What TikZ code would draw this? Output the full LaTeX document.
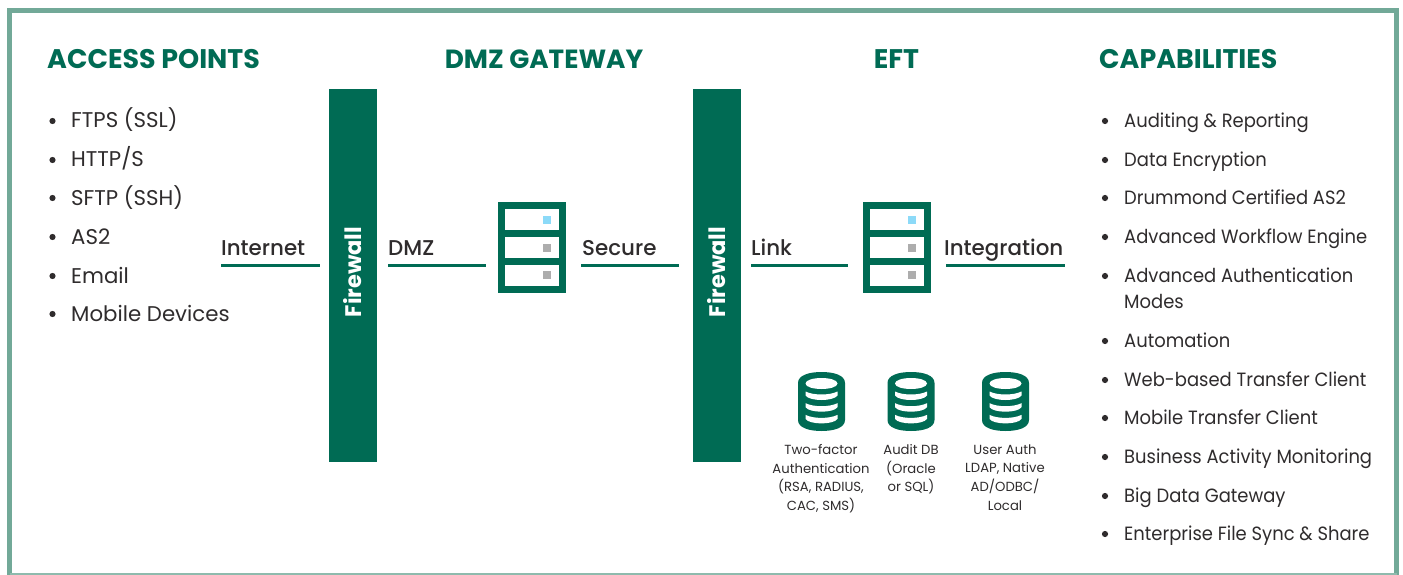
\documentclass[tikz,border=0pt]{standalone}
\usepackage{fontspec}
\setmainfont{Poppins}
\newfontfamily\popmed[UprightFont=* Medium]{Poppins}
\newfontfamily\popnar[FakeStretch=0.935]{Poppins}
\definecolor{gr}{HTML}{006B54}
\definecolor{fr}{HTML}{72A998}
\definecolor{tx}{HTML}{2F2C2D}
\tikzset{
 head/.style={anchor=base,inner sep=0pt,text=gr,font=\fontsize{26.9}{26.9}\selectfont\bfseries},
 headn/.style={anchor=base,inner sep=0pt,text=gr,font=\fontsize{26.3}{26.3}\selectfont\bfseries},
 item/.style={anchor=base west,inner sep=0pt,text=tx,font=\fontsize{21.3}{21.3}\selectfont},
 capitem/.style={anchor=base west,inner sep=0pt,text=tx,font=\fontsize{19.2}{19.2}\selectfont\popnar},
 link/.style={anchor=base west,inner sep=0pt,text=tx,font=\fontsize{21.4}{21.4}\selectfont\popmed},
 wall/.style={fill=gr,draw=none,minimum width=48pt,minimum height=373pt,inner sep=0pt,anchor=north west},
 walltext/.style={rotate=90,inner sep=0pt,text=white,font=\fontsize{22.5}{22.5}\selectfont\bfseries},
 rule/.style={draw=gr,line width=3pt},
 dbt/.style={align=center,anchor=north,inner sep=0pt,text=tx,font=\fontsize{13.2}{18.6}\selectfont},
 bul/.style={circle,fill=tx,inner sep=0pt,minimum size=6.2pt},
 pics/server/.style={code={
  \fill[gr] (0,0) rectangle (68,91);
  \foreach \y in {7,35,63}{\fill[white] (7,\y) rectangle (61,\y+21);}
  \fill[cyan!45!white] (45,14) rectangle (53,22);
  \fill[black!32] (45,42) rectangle (53,50);
  \fill[black!32] (45,69) rectangle (53,77);
 }},
 pics/dbicon/.style={code={
  \fill[gr] (-23.5,11) .. controls (-23.5,3) and (-12,0) .. (0,0) .. controls (12,0) and (23.5,3) .. (23.5,11)
    -- (23.5,48) .. controls (23.5,56) and (12,59) .. (0,59) .. controls (-12,59) and (-23.5,56) .. (-23.5,48) -- cycle;
  \fill[white] (-16,11.5) .. controls (-16,8) and (-8,6) .. (0,6) .. controls (8,6) and (16,8) .. (16,11.5)
     .. controls (16,15) and (8,17) .. (0,17) .. controls (-8,17) and (-16,15) .. (-16,11.5) -- cycle;
  \foreach \d in {0,11.7,23.4}{
   \fill[white] (-16,19.5+\d) .. controls (-8,23.5+\d) and (8,23.5+\d) .. (16,19.5+\d)
     -- (16,23.5+\d) .. controls (12,29.5+\d) and (-12,29.5+\d) .. (-16,23.5+\d) -- cycle;
  }
 }},
}
\begin{document}
\begin{tikzpicture}[x=1pt,y=-1pt]
\path[use as bounding box,fill=white] (0,0) rectangle (1403,575);
% frame
\draw[fr,line width=5pt] (9.5,575) -- (9.5,10.5) -- (1396.5,10.5) -- (1396.5,575);
\draw[fr!80!white,line width=2.5pt] (9.5,574) -- (1396.5,574);
% headings
\node[head,anchor=base west] (hAccess) at (47,68.5) {ACCESS POINTS};
\node[headn] (hDmz) at (544,68.5) {DMZ GATEWAY};
\node[head] (hEft) at (896.5,68.5) {EFT};
\node[head,anchor=base west] (hCap) at (1099,68.5) {CAPABILITIES};
% access points
\foreach \n/\y/\t in {a1/120/FTPS (SSL),a2/159/{HTTP/S},a3/197/SFTP (SSH),a4/236/AS2,a5/275/Email,a6/313/Mobile Devices}{
 \node[bul] (\n b) at (52.5,\y+1) {};
 \node[item] (\n) at (71,\y+8) {\t};
}
% capabilities
\foreach \n/\y/\t in {c1/121/Auditing \& Reporting,c2/160/Data Encryption,c3/198/Drummond Certified AS2,c4/237/Advanced Workflow Engine,c5/276/Advanced Authentication,c6/341/Automation,c7/380/Web-based Transfer Client,c8/418/Mobile Transfer Client,c9/457/Business Activity Monitoring,c10/496/Big Data Gateway,c11/534/Enterprise File Sync \& Share}{
 \node[bul] (\n b) at (1105,\y) {};
 \node[capitem] (\n) at (1124,\y+6.8) {\t};
}
\node[capitem] (c5x) at (1124,308.8) {Modes};
% firewalls
\node[wall] (fw1) at (329,89) {};
\node[wall] (fw2) at (693,89) {};
\node[walltext] (fw1t) at (353,272) {Firewall};
\node[walltext] (fw2t) at (717,272) {Firewall};
% servers
\pic (srv1) at (498,202) {server};
\pic (srv2) at (863,202) {server};
% link labels
\node[link] (lInternet) at (221,255) {Internet};
\node[link] (lDmz) at (388,255) {DMZ};
\node[link] (lSecure) at (582,255) {Secure};
\node[link] (lLink) at (751,255) {Link};
\node[link] (lInteg) at (944,255) {Integration};
% rules
\coordinate (r1a) at (221,265); \coordinate (r1b) at (320,265);
\coordinate (r2a) at (388,265); \coordinate (r2b) at (486,265);
\coordinate (r3a) at (581,265); \coordinate (r3b) at (679,265);
\coordinate (r4a) at (751,265); \coordinate (r4b) at (848,265);
\coordinate (r5a) at (946,265); \coordinate (r5b) at (1065,265);
\draw[rule] (r1a) -- (r1b);
\draw[rule] (r2a) -- (r2b);
\draw[rule] (r3a) -- (r3b);
\draw[rule] (r4a) -- (r4b);
\draw[rule] (r5a) -- (r5b);
% databases
\pic (db1) at (821.5,372) {dbicon};
\pic (db2) at (911,372) {dbicon};
\pic (db3) at (1005.5,372) {dbicon};
\node[dbt] (d1) at (821,444.3) {Two-factor\\Authentication\\(RSA, RADIUS,\\CAC, SMS)};
\node[dbt] (d2) at (911,444.3) {Audit DB\\(Oracle\\or SQL)};
\node[dbt] (d3) at (1005,444.3) {User Auth\\LDAP, Native\\AD/ODBC/\\Local};
\end{tikzpicture}
\end{document}
